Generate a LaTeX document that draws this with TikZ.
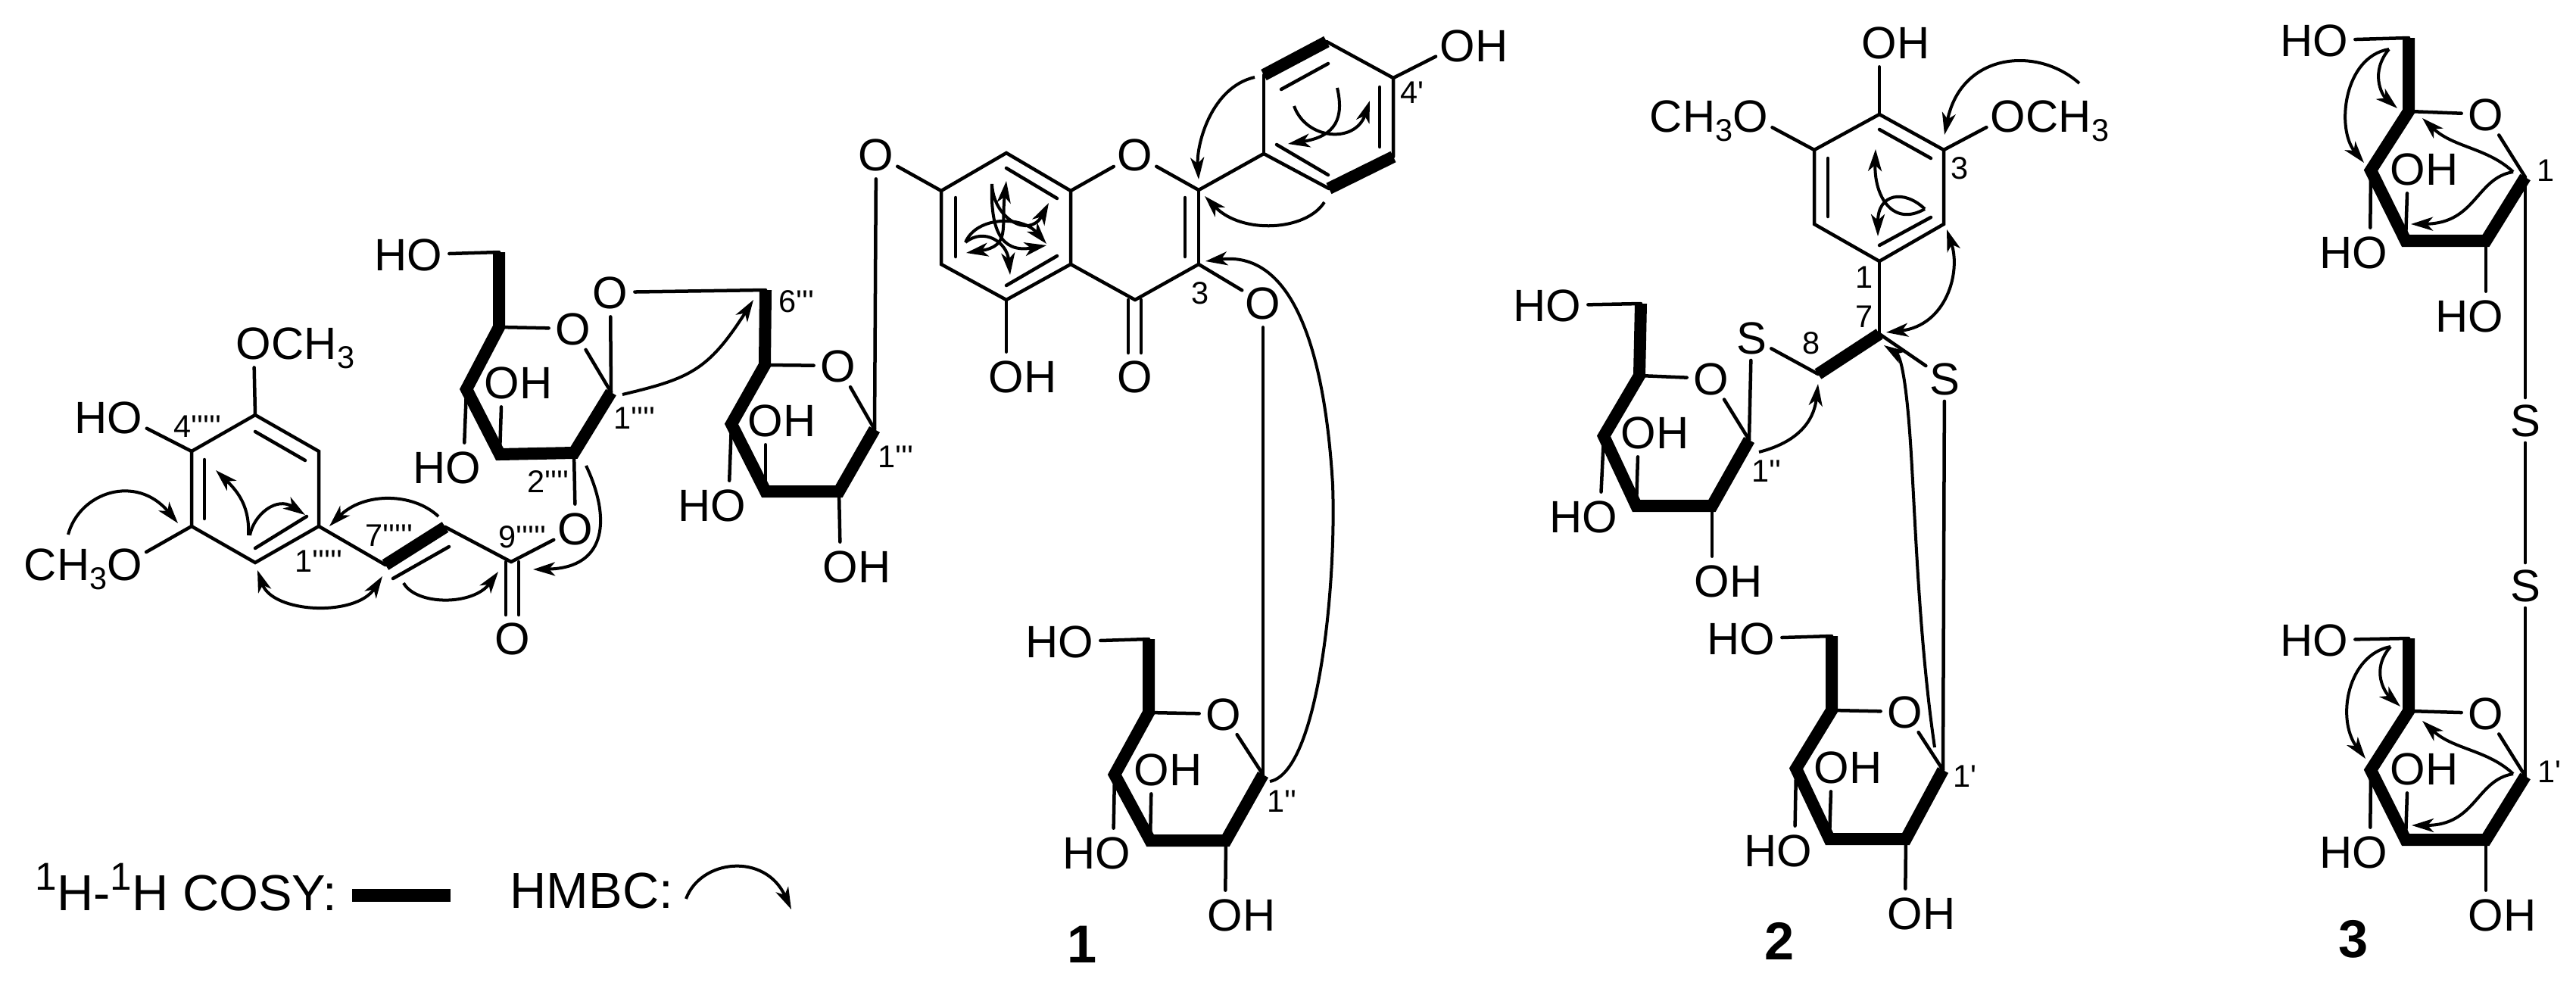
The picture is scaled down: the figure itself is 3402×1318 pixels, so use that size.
\documentclass[tikz,border=0pt]{standalone}
\usepackage{fontspec}
\usetikzlibrary{arrows.meta}
\newfontfamily\af{Liberation Sans}
\tikzset{
  bond/.style={line width=0.045cm,line cap=round},
  cosy/.style={line width=0.16cm,line join=miter,line cap=butt},
  hmbc/.style={line width=0.04cm,-{Stealth[length=0.29cm,width=0.18cm,inset=0.08cm]}},
  hmbcd/.style={line width=0.04cm,{Stealth[length=0.29cm,width=0.18cm,inset=0.08cm]}-{Stealth[length=0.29cm,width=0.18cm,inset=0.08cm]}},
  atom/.style={circle,inner sep=0pt,font=\af\fontsize{17}{19}\selectfont,text height=12.2pt,text depth=0pt},
  txt/.style={inner sep=0pt,font=\af\fontsize{17}{19}\selectfont,text height=12.2pt,text depth=0pt},
  small/.style={inner sep=0pt,font=\af\fontsize{11.8}{13}\selectfont},
  num/.style={inner sep=0pt,font=\af\bfseries\fontsize{20}{22}\selectfont},
  leg/.style={inner sep=0pt,anchor=base west,font=\af\fontsize{19}{21}\selectfont},
}
\newcommand{\vx}[3]{\coordinate (#1) at (#2,#3);}
\newcommand{\atm}[4]{\node[atom] (#1) at (#2,#3) {#4};}
\newcommand{\hol}[3]{\atm{#1}{#2}{#3}{O}\node[txt,anchor=east] (#1h) at ([xshift=-0.23cm]#1.center) {H};}
\newcommand{\ohr}[3]{\atm{#1}{#2}{#3}{O}\node[txt,anchor=west] (#1h) at ([xshift=0.23cm]#1.center) {H};}
\newcommand{\subthree}{\raisebox{-3.4pt}{\fontsize{11.8}{13}\selectfont 3}}
\newcommand{\omer}[3]{\atm{#1}{#2}{#3}{O}\node[txt,anchor=west] (#1h) at ([xshift=0.23cm]#1.center) {CH\subthree};}
\newcommand{\meor}[3]{\atm{#1}{#2}{#3}{O}\node[txt,anchor=east] (#1h) at ([xshift=-0.23cm]#1.center) {CH\subthree};}
\newcommand{\lbl}[4]{\node[small] (#1) at (#2,#3) {#4};}
\newcommand{\inb}[5]{\coordinate (#1s) at (#2,#3);\coordinate (#1e) at (#4,#5);\draw[bond] (#1s) -- (#1e);}
\newcommand{\hm}[9]{\coordinate (#1s) at (#2,#3);\coordinate (#1e) at (#8,#9);\draw[hmbc] (#1s) .. controls (#4,#5) and (#6,#7) .. (#1e);}
\newcommand{\hmd}[9]{\coordinate (#1s) at (#2,#3);\coordinate (#1e) at (#8,#9);\draw[hmbcd] (#1s) .. controls (#4,#5) and (#6,#7) .. (#1e);}
\begin{document}
\begin{tikzpicture}[x=0.01cm,y=-0.01cm]
\useasboundingbox (0,0) rectangle (3402,1318);
\fill[white] (0,0) rectangle (3402,1318);
% ---------- compound 1: sinapoyl part
\vx{a1}{337}{548}\vx{a2}{421}{596}\vx{a3}{421}{695}\vx{a4}{337}{743}\vx{a5}{253}{695}\vx{a6}{253}{596}
\draw[bond] (a1)--(a2)--(a3)--(a4)--(a5)--(a6)--cycle;
\inb{ai1}{337}{570}{403}{608}\inb{ai2}{405}{682}{337}{724}\inb{ai3}{270}{607}{270}{685}
\omer{ao1}{335}{453}\hol{ao2}{165}{551}\meor{ao3}{165}{745}
\draw[bond] (a1)--(ao1);\draw[bond] (a6)--(ao2);\draw[bond] (a5)--(ao3);
\vx{c7}{509}{746}\vx{c8}{588}{696}\vx{c9}{675}{742}
\draw[bond] (a3)--(c7);\draw[cosy] (c7)--(c8);\draw[bond] (c8)--(c9);
\inb{ci}{519}{764}{593}{722}
\atm{eo}{760}{698}{O}\atm{ko}{677}{843}{O}
\draw[bond] (c9)--(eo);
\inb{k1}{668}{742}{668}{812}\inb{k2}{685}{742}{685}{812}
\lbl{l1}{261}{563}{4'''''}\lbl{l2}{514}{707}{7'''''}\lbl{l3}{421}{741}{1'''''}\lbl{l4}{690}{709}{9'''''}
\lbl{l5}{724}{636}{2''''}\lbl{l6}{838}{552}{1''''}\lbl{l7}{1052}{398}{6'''}
% sugar A
\vx{sa6}{659}{333}\vx{sa5}{659}{432}\vx{sa4}{616}{514}\vx{sa3}{660}{600}\vx{sa2}{758}{598}\vx{sa1}{807}{518}
\draw[cosy] (sa6)--(sa5)--(sa4)--(sa3)--(sa2)--(sa1);
\atm{sao}{757}{434}{O}\atm{sax}{806}{386}{O}\hol{sah6}{561}{336}\ohr{sah3}{663}{505}\hol{sah4}{612}{617}
\draw[bond] (sa6)--(sah6);\draw[bond] (sa5)--(sao);\draw[bond] (sao)--(sa1);\draw[bond] (sa1)--(sax);
\draw[bond] (sa3)--(sah3);\draw[bond] (sa4)--(sah4);\draw[bond] (sa2)--(eo);
% sugar B
\vx{sb6}{1011}{383}\vx{sb5}{1010}{482}\vx{sb4}{966}{560}\vx{sb3}{1011}{649}\vx{sb2}{1108}{649}\vx{sb1}{1155}{567}
\draw[cosy] (sb6)--(sb5)--(sb4)--(sb3)--(sb2)--(sb1);
\atm{sbo}{1107}{483}{O}\ohr{sbh3}{1011}{555}\hol{sbh4}{962}{667}\ohr{sbh2}{1110}{748}
\draw[bond] (sax)--(sb6);\draw[bond] (sb5)--(sbo);\draw[bond] (sbo)--(sb1);
\draw[bond] (sb3)--(sbh3);\draw[bond] (sb4)--(sbh4);\draw[bond] (sb2)--(sbh2);
\lbl{l8}{1183}{603}{1'''}
% flavone
\vx{f1}{1329}{202}\vx{f2}{1414}{252}\vx{f3}{1414}{349}\vx{f4}{1329}{396}\vx{f5}{1243}{349}\vx{f6}{1243}{252}
\draw[bond] (f1)--(f2)--(f3)--(f4)--(f5)--(f6)--cycle;
\inb{fi1}{1262}{261}{1262}{339}\inb{fi2}{1329}{222}{1396}{262}\inb{fi3}{1396}{338}{1329}{377}
\atm{fo7}{1157}{204}{O}\atm{fo1}{1499}{204}{O}\atm{fo4}{1499}{497}{O}\ohr{fo5}{1329}{497}\atm{fo3}{1668}{400}{O}
\vx{g2}{1583}{251}\vx{g3}{1583}{349}\vx{g4}{1499}{396}
\draw[bond] (f6)--(fo7);\draw[bond] (f2)--(fo1);\draw[bond] (fo1)--(g2);\draw[bond] (g2)--(g3);\draw[bond] (g3)--(g4);\draw[bond] (g4)--(f3);
\draw[bond] (g3)--(fo3);\draw[bond] (f4)--(fo5);
\inb{gi}{1565}{261}{1565}{339}\inb{gk1}{1490}{396}{1490}{466}\inb{gk2}{1507}{396}{1507}{466}
\vx{b1}{1669}{203}\vx{b2}{1669}{99}\vx{b3}{1752}{55}\vx{b4}{1840}{103}\vx{b5}{1840}{207}\vx{b6}{1755}{249}
\draw[bond] (g2)--(b1);\draw[bond] (b1)--(b2);\draw[bond] (b3)--(b4)--(b5);\draw[bond] (b6)--(b1);
\draw[cosy] (b2)--(b3);\draw[cosy] (b5)--(b6);
\inb{bi1}{1692}{118}{1754}{84}\inb{bi2}{1822}{115}{1822}{194}\inb{bi3}{1686}{191}{1754}{231}
\ohr{bo}{1925}{60}\draw[bond] (b4)--(bo);
\lbl{l9}{1865}{122}{4'}\lbl{l10}{1585}{387}{3}
\draw[bond] (sb1)--(fo7);
% sugar C
\vx{sc6}{1517}{844}\vx{sc5}{1517}{941}\vx{sc4}{1472}{1023}\vx{sc3}{1519}{1110}\vx{sc2}{1619}{1110}\vx{sc1}{1668}{1023}
\draw[cosy] (sc6)--(sc5)--(sc4)--(sc3)--(sc2)--(sc1);
\atm{sco}{1616}{943}{O}\hol{sch6}{1421}{847}\ohr{sch3}{1521}{1016}\hol{sch4}{1470}{1126}\ohr{sch2}{1618}{1208}
\draw[bond] (sc6)--(sch6);\draw[bond] (sc5)--(sco);\draw[bond] (sco)--(sc1);\draw[bond] (sc3)--(sch3);\draw[bond] (sc4)--(sch4);\draw[bond] (sc2)--(sch2);
\draw[bond] (fo3)--(sc1);
\lbl{l11}{1693}{1058}{1''}
\node[num] (n1) at (1429,1247) {1};
% HMBC of 1
\hm{h1}{1657}{102}{1600}{115}{1580}{190}{1583}{237}
\hm{h2}{1749}{267}{1725}{305}{1640}{310}{1591}{259}
\coordinate (h3s) at (1677,1032);\coordinate (h3m) at (1760,640);\coordinate (h3e) at (1592,345);
\draw[hmbc] (h3s) .. controls (1740,1020) and (1765,780) .. (h3m) .. controls (1750,470) and (1710,330) .. (h3e);
\hm{h4}{1766}{116}{1775}{155}{1765}{180}{1701}{190}
\hm{h5}{1709}{140}{1725}{185}{1790}{190}{1809}{133}
\hm{h6}{1310}{243}{1312}{290}{1360}{315}{1385}{268}
\hm{h7}{1310}{243}{1308}{300}{1320}{335}{1382}{324}
\hmd{h8}{1329}{239}{1322}{300}{1335}{325}{1276}{334}
\hm{h9}{1275}{320}{1290}{285}{1350}{285}{1382}{322}
\hm{h10}{1275}{320}{1300}{300}{1330}{320}{1334}{363}
\hm{h11}{90}{706}{105}{650}{180}{625}{235}{691}
\hm{h12}{328}{707}{330}{670}{315}{650}{285}{621}
\hm{h13}{330}{707}{335}{680}{365}{655}{403}{680}
\hm{h14}{579}{682}{545}{650}{480}{650}{435}{695}
\hmd{h15}{340}{753}{360}{810}{470}{815}{505}{761}
\hm{h16}{533}{770}{550}{800}{625}{800}{658}{755}
\hm{h17}{774}{615}{805}{680}{805}{750}{704}{752}
\hm{h18}{822}{521}{910}{500}{935}{490}{995}{396}
% ---------- compound 2
\vx{p1}{2482}{151}\vx{p2}{2567}{198}\vx{p3}{2567}{296}\vx{p4}{2482}{345}\vx{p5}{2396}{296}\vx{p6}{2396}{198}
\draw[bond] (p1)--(p2)--(p3)--(p4)--(p5)--(p6)--cycle;
\inb{pi1}{2482}{171}{2550}{209}\inb{pi2}{2550}{287}{2482}{324}\inb{pi3}{2414}{209}{2414}{286}
\ohr{po1}{2482}{56}\meor{po2}{2312}{153}\omer{po3}{2652}{153}
\draw[bond] (p1)--(po1);\draw[bond] (p6)--(po2);\draw[bond] (p2)--(po3);
\vx{q7}{2482}{441}\vx{q8}{2401}{494}
\draw[bond] (p4)--(q7);\draw[cosy] (q7)--(q8);
\atm{sl}{2313}{446}{S}\atm{sr}{2568}{500}{S}
\draw[bond] (q8)--(sl);\draw[bond] (q7)--(sr);
\vx{sd6}{2167}{401}\vx{sd5}{2165}{496}\vx{sd4}{2118}{576}\vx{sd3}{2161}{668}\vx{sd2}{2261}{668}\vx{sd1}{2310}{581}
\draw[cosy] (sd6)--(sd5)--(sd4)--(sd3)--(sd2)--(sd1);
\atm{sdo}{2260}{500}{O}\hol{sdh6}{2065}{403}\ohr{sdh3}{2164}{571}\hol{sdh4}{2113}{682}\ohr{sdh2}{2261}{767}
\draw[bond] (sd6)--(sdh6);\draw[bond] (sd5)--(sdo);\draw[bond] (sdo)--(sd1);\draw[bond] (sl)--(sd1);
\draw[bond] (sd3)--(sdh3);\draw[bond] (sd4)--(sdh4);\draw[bond] (sd2)--(sdh2);
\vx{se6}{2419}{840}\vx{se5}{2419}{938}\vx{se4}{2372}{1015}\vx{se3}{2416}{1108}\vx{se2}{2517}{1108}\vx{se1}{2566}{1017}
\draw[cosy] (se6)--(se5)--(se4)--(se3)--(se2)--(se1);
\atm{seo}{2516}{940}{O}\hol{seh6}{2321}{843}\ohr{seh3}{2419}{1013}\hol{seh4}{2370}{1123}\ohr{seh2}{2516}{1206}
\draw[bond] (se6)--(seh6);\draw[bond] (se5)--(seo);\draw[bond] (seo)--(se1);\draw[bond] (sr)--(se1);
\draw[bond] (se3)--(seh3);\draw[bond] (se4)--(seh4);\draw[bond] (se2)--(seh2);
\lbl{l12}{2588}{222}{3}\lbl{l13}{2462}{366}{1}\lbl{l14}{2462}{418}{7}\lbl{l15}{2392}{453}{8}\lbl{l16}{2333}{622}{1''}\lbl{l17}{2595}{1025}{1'}
\node[num] (n2) at (2350,1243) {2};
\hm{h20}{2746}{110}{2690}{60}{2590}{70}{2568}{178}
\hm{h21}{2542}{276}{2500}{300}{2475}{260}{2477}{197}
\hm{h22}{2542}{276}{2515}{250}{2480}{255}{2480}{312}
\hmd{h23}{2571}{303}{2590}{360}{2570}{430}{2491}{439}
\coordinate (h24s) at (2555,987);\coordinate (h24m) at (2524,600);\coordinate (h24e) at (2488,456);
\draw[hmbc] (h24s) .. controls (2535,850) and (2530,700) .. (h24m) .. controls (2518,500) and (2510,470) .. (h24e);
\hm{h25}{2323}{597}{2370}{585}{2395}{560}{2401}{507}
% ---------- compound 3
\vx{t6}{3181}{50}\vx{t5}{3181}{147}\vx{t4}{3131}{225}\vx{t3}{3177}{318}\vx{t2}{3283}{318}\vx{t1}{3335}{234}
\draw[cosy] (t6)--(t5)--(t4)--(t3)--(t2)--(t1);
\atm{to}{3283}{151}{O}\hol{th6}{3078}{53}\ohr{th3}{3180}{223}\hol{th4}{3130}{333}\hol{th2}{3283}{417}
\draw[bond] (t6)--(th6);\draw[bond] (t5)--(to);\draw[bond] (to)--(t1);\draw[bond] (t3)--(th3);\draw[bond] (t4)--(th4);\draw[bond] (t2)--(th2);
\atm{s1}{3335}{555}{S}\atm{s2}{3335}{773}{S}
\draw[bond] (t1)--(s1);\draw[bond] (s1)--(s2);
\vx{u6}{3181}{843}\vx{u5}{3181}{939}\vx{u4}{3131}{1017}\vx{u3}{3177}{1109}\vx{u2}{3283}{1109}\vx{u1}{3335}{1025}
\draw[cosy] (u6)--(u5)--(u4)--(u3)--(u2)--(u1);
\atm{uo}{3283}{942}{O}\hol{uh6}{3078}{845}\ohr{uh3}{3180}{1015}\hol{uh4}{3130}{1125}\ohr{uh2}{3283}{1208}
\draw[bond] (u6)--(uh6);\draw[bond] (u5)--(uo);\draw[bond] (uo)--(u1);\draw[bond] (u3)--(uh3);\draw[bond] (u4)--(uh4);\draw[bond] (u2)--(uh2);
\draw[bond] (s2)--(u1);
\lbl{l18}{3362}{225}{1}\lbl{l19}{3367}{1019}{1'}
\node[num] (n3) at (3108,1240) {3};
\hm{h30}{3155}{65}{3095}{75}{3085}{170}{3122}{215}
\hm{h31}{3155}{65}{3130}{95}{3145}{125}{3166}{143}
\hm{h32}{3319}{227}{3285}{195}{3240}{195}{3199}{156}
\hm{h33}{3319}{227}{3270}{235}{3270}{295}{3184}{296}
\hm{h34}{3157}{854}{3100}{865}{3085}{950}{3124}{1002}
\hm{h35}{3157}{854}{3130}{885}{3150}{915}{3170}{933}
\hm{h36}{3319}{1022}{3285}{990}{3240}{990}{3199}{952}
\hm{h37}{3319}{1022}{3270}{1030}{3270}{1090}{3185}{1090}
% ---------- legend
\node[leg] (lg1) at (46,1202) {\raisebox{7.4pt}{\fontsize{14.6}{15}\selectfont 1}H-\raisebox{7.4pt}{\fontsize{14.6}{15}\selectfont 1}H COSY:};
\coordinate (lgs) at (465,1182);\coordinate (lge) at (595,1182);
\draw[line width=0.17cm] (lgs)--(lge);
\node[leg] (lg2) at (673,1199) {HMBC:};
\hm{h40}{906}{1187}{925}{1135}{1010}{1125}{1045}{1201}
\end{tikzpicture}
\end{document}
